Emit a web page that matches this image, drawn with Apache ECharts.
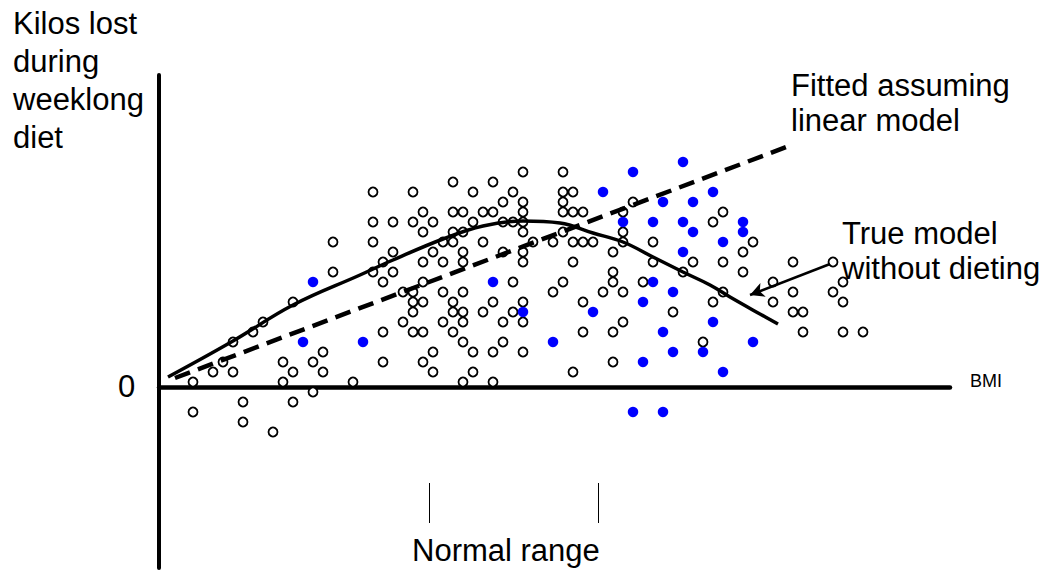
<!DOCTYPE html>
<html>
<head>
<meta charset="utf-8">
<script src="https://cdn.jsdelivr.net/npm/echarts@6/dist/echarts.min.js"></script>
<style>
html,body{margin:0;padding:0;background:#fff;}
#chart{width:1045px;height:570px;}
</style>
</head>
<body>
<div id="chart"></div>
<script>
// Open circles (no dieting): each row = [y value, [x values]]
const openRows = [
  [21.5, [36, 40]],
  [20.5, [29, 33]],
  [19.5, [21, 25, 31, 35, 40, 41]],
  [18.5, [34, 36, 40, 47]],
  [17.5, [26, 29, 30, 32, 33, 36, 40, 41, 42, 46, 56]],
  [16.5, [21, 23, 25, 27, 31, 34, 35, 36, 55]],
  [15.5, [26, 29, 30, 36, 40, 46]],
  [14.5, [17, 21, 28, 29, 32, 37, 39, 41, 42, 43, 46, 49, 59]],
  [13.5, [23, 27, 30, 34, 36, 45, 58]],
  [12.5, [22, 26, 28, 30, 36, 41, 49, 53, 56, 63, 67]],
  [11.5, [17, 21, 23, 45, 52, 58]],
  [10.5, [22, 26, 35, 40, 45, 48, 61, 68]],
  [9.5, [24, 25, 28, 30, 39, 44, 46, 56, 63, 67]],
  [8.5, [13, 25, 26, 29, 33, 36, 42, 55, 61, 68]],
  [7.5, [25, 29, 30, 32, 35, 51, 63, 64]],
  [6.5, [10, 24, 28, 30, 34, 36, 46]],
  [5.5, [9, 22, 25, 26, 29, 42, 45, 64, 68, 70]],
  [4.5, [7, 30, 34, 54]],
  [3.5, [16, 27, 31, 33, 36]],
  [2.5, [6, 12, 15, 22, 26, 45]],
  [1.5, [5, 7, 13, 16, 27, 31, 41]],
  [0.5, [3, 12, 19, 30, 33]],
  [-0.5, [15]],
  [-1.5, [8, 13]],
  [-2.5, [3]],
  [-3.5, [8]],
  [-4.5, [11]]
];
// Blue filled circles (dieting)
const blueRows = [
  [22.5, [52]],
  [21.5, [47]],
  [19.5, [44, 55]],
  [18.5, [50, 53]],
  [16.5, [46, 49, 52, 58]],
  [15.5, [53, 58]],
  [14.5, [56]],
  [13.5, [52]],
  [10.5, [15, 33, 49]],
  [9.5, [51]],
  [8.5, [48]],
  [7.5, [36, 43]],
  [6.5, [55]],
  [5.5, [50]],
  [4.5, [14, 20, 39, 59]],
  [3.5, [51, 54]],
  [2.5, [48]],
  [1.5, [56]],
  [-2.5, [47, 50]]
];
// True model curve
const trueX = [0.5, 7, 13, 19.7, 23, 28, 32, 36, 39.7, 43, 46, 49, 52, 54.7, 56.7, 59.7, 61.5];
const trueY = [1.0, 4.6, 8.2, 11.2, 12.7, 14.8, 16.1, 16.6, 16.4, 15.4, 14.5, 13.0, 11.5, 10.2, 9.0, 7.3, 6.3];
// Fitted linear model
const linX = [1.2, 62.6];
const linY = [0.9, 24.1];
// Normal range ticks
const normalRangeX = [26.6, 43.5];
const normalTickY = [-9.6, -13.6];
// Arrow from label to curve
const arrowFrom = [66.7, 12.3];
const arrowTo = [58.7, 9.2];

function rowsToData(rows) {
  const out = [];
  rows.forEach(r => r[1].forEach(x => out.push([x, r[0]])));
  return out;
}
const FONT = '"Liberation Sans", Arial, sans-serif';

const chart = echarts.init(document.getElementById('chart'), null, {renderer: 'svg'});
chart.setOption({
  animation: false,
  backgroundColor: '#fff',
  grid: {left: 159, right: 95, top: 75, height: 493, containLabel: false},
  xAxis: {
    type: 'value', min: -0.4, max: 78.7,
    name: 'BMI', nameLocation: 'end', nameGap: 20,
    nameTextStyle: {fontFamily: FONT, fontSize: 18, color: '#000', verticalAlign: 'bottom', padding: [0, 0, -3, 0]},
    axisLine: {onZero: true, lineStyle: {color: '#000', width: 4.5, cap: 'round'}},
    axisTick: {show: false}, axisLabel: {show: false}, splitLine: {show: false}
  },
  yAxis: {
    type: 'value', min: -18.1, max: 31.2,
    axisLine: {show: true, onZero: false, lineStyle: {color: '#000', width: 4, cap: 'round'}},
    axisTick: {show: false}, axisLabel: {show: false}, splitLine: {show: false}
  },
  series: [
    {
      type: 'scatter', data: rowsToData(openRows), symbol: 'circle', symbolSize: 9, z: 2,
      itemStyle: {color: '#fff', borderColor: '#000', borderWidth: 1.8, opacity: 1},
      emphasis: {disabled: true}, silent: true
    },
    {
      type: 'scatter', data: rowsToData(blueRows), symbol: 'circle', symbolSize: 10.5, z: 2,
      itemStyle: {color: '#0000ff', opacity: 1},
      emphasis: {disabled: true}, silent: true
    },
    {
      type: 'line', data: trueX.map((x, k) => [x, trueY[k]]), smooth: 0.4, showSymbol: false, z: 3,
      lineStyle: {color: '#000', width: 3.5}, silent: true
    },
    {
      type: 'line', data: linX.map((x, k) => [x, linY[k]]), showSymbol: false, z: 3,
      lineStyle: {color: '#000', width: 4.5, type: [16, 8.5]}, silent: true,
      markLine: {
        silent: true, symbol: ['none', 'none'], label: {show: false},
        lineStyle: {color: '#000', width: 1, type: 'solid'},
        data: normalRangeX.map(x => [{coord: [x, normalTickY[0]]}, {coord: [x, normalTickY[1]]}])
      }
    },
    {
      type: 'line', data: [], z: 4,
      markLine: {
        silent: true, symbol: ['none', 'arrow'], symbolSize: [11, 14], label: {show: false},
        lineStyle: {color: '#000', width: 2.5, type: 'solid'},
        data: [[{coord: arrowFrom}, {coord: arrowTo}]]
      }
    }
  ],
  graphic: [
    {type: 'text', left: 13, top: 4, style: {text: 'Kilos lost\nduring\nweeklong\ndiet', font: '31px ' + FONT, lineHeight: 38, fill: '#000'}},
    {type: 'text', left: 791, top: 68, style: {text: 'Fitted assuming\nlinear model', font: '31px ' + FONT, lineHeight: 35, fill: '#000'}},
    {type: 'text', left: 842, top: 216, style: {text: 'True model\nwithout dieting', font: '31px ' + FONT, lineHeight: 35, fill: '#000'}},
    {type: 'text', left: 118, top: 369, style: {text: '0', font: '31px ' + FONT, lineHeight: 35, fill: '#000'}},
    {type: 'text', left: 412, top: 533, style: {text: 'Normal range', font: '31px ' + FONT, lineHeight: 35, fill: '#000'}}
  ]
});
</script>
</body>
</html>
